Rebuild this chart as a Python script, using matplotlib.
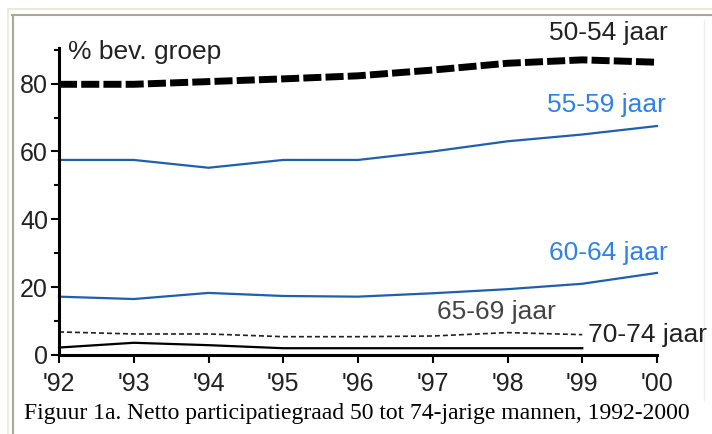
import matplotlib
matplotlib.use("Agg")
import matplotlib.pyplot as plt
from matplotlib.lines import Line2D
from matplotlib.ticker import MultipleLocator

years = [1992, 1993, 1994, 1995, 1996, 1997, 1998, 1999, 2000]
year_labels = ["'92", "'93", "'94", "'95", "'96", "'97", "'98", "'99", "'00"]
s50_54 = [79.8, 79.8, 80.6, 81.4, 82.3, 84.0, 86.0, 87.0, 86.3]
s55_59 = [57.5, 57.5, 55.2, 57.5, 57.5, 60.0, 63.0, 65.0, 67.5]
s60_64 = [17.2, 16.5, 18.3, 17.4, 17.2, 18.2, 19.4, 21.0, 24.2]
years_old = [1992, 1993, 1994, 1995, 1996, 1997, 1998, 1999]
s65_69 = [6.8, 6.2, 6.2, 5.4, 5.4, 5.6, 6.6, 6.0]
s70_74 = [2.2, 3.6, 2.9, 2.0, 2.0, 2.0, 2.0, 2.0]
y_ticks = [0, 20, 40, 60, 80]

W, H = 712, 434
fig = plt.figure(figsize=(W / 100, H / 100), dpi=100)
fig.patch.set_facecolor("white")

# frame lines
fig.add_artist(Line2D([8 / W, 1], [1 - 9 / H, 1 - 9 / H], color="#ece9d8", lw=1.5))
fig.add_artist(Line2D([12 / W, 1], [1 - 14.5 / H, 1 - 14.5 / H], color="#aca899", lw=1.5))
fig.add_artist(Line2D([12.5 / W, 12.5 / W], [0, 1 - 14.5 / H], color="#aca899", lw=1.5))
fig.add_artist(Line2D([8 / W, 8 / W], [0, 1 - 9 / H], color="#ece9d8", lw=1.2))
fig.add_artist(Line2D([704 / W, 704 / W], [1 - 400 / H, 1 - 20 / H], color="#eeeeee", lw=1.0))

left, right = 59 / W, 657 / W
bottom, top = 1 - 355 / H, 1 - 48 / H
ax = fig.add_axes([left, bottom, right - left, top - bottom])
ax.set_xlim(1992, 2000)
ax.set_ylim(0, 90.5)
ax.patch.set_alpha(0)

blue_line = "#1f5fae"
blue_text = "#2f80e8"

ax.plot(years, s50_54, color="black", lw=5, dashes=(2.6, 0.6), solid_capstyle="butt", clip_on=False)
ax.plot(years, s55_59, color=blue_line, lw=1.6, clip_on=False)
ax.plot(years, s60_64, color=blue_line, lw=1.6, clip_on=False)
ax.plot(years_old, s65_69, color="#222222", lw=1.2, dashes=(3, 1.8), clip_on=False)
ax.plot(years_old, s70_74, color="black", lw=1.6, clip_on=False)

for sp in ["top", "right"]:
    ax.spines[sp].set_visible(False)
for sp in ["left", "bottom"]:
    ax.spines[sp].set_linewidth(2.2)
    ax.spines[sp].set_color("black")

ax.set_xticks(years)
ax.set_xticklabels(year_labels)
ax.set_yticks(y_ticks)
ax.set_yticklabels([str(v) for v in y_ticks])
ax.yaxis.set_minor_locator(MultipleLocator(10))
ax.tick_params(axis="both", which="major", direction="out", length=6, width=1.5,
               labelsize=18, labelcolor="#222222", pad=2)
ax.tick_params(axis="y", which="minor", direction="out", length=3.5, width=1.5)
ax.tick_params(axis="x", pad=6)
for lab in ax.get_xticklabels() + ax.get_yticklabels():
    lab.set_family("Liberation Sans")

font = "Liberation Sans"
fs = 19
fig.text(68 / W, 1 - 52 / H, "% bev. groep", fontsize=fs, family=font, color="#222222", va="center", ha="left")
fig.text(668 / W, 1 - 33 / H, "50-54 jaar", fontsize=fs, family=font, color="#222222", va="center", ha="right")
fig.text(666 / W, 1 - 105 / H, "55-59 jaar", fontsize=fs, family=font, color=blue_text, va="center", ha="right")
fig.text(668 / W, 1 - 253 / H, "60-64 jaar", fontsize=fs, family=font, color=blue_text, va="center", ha="right")
fig.text(437 / W, 1 - 312 / H, "65-69 jaar", fontsize=fs, family=font, color="#444444", va="center", ha="left")
fig.text(588 / W, 1 - 335 / H, "70-74 jaar", fontsize=fs, family=font, color="#222222", va="center", ha="left")

fig.text(24 / W, 1 - 414 / H, "Figuur 1a. Netto participatiegraad 50 tot 74-jarige mannen, 1992-2000",
         fontsize=17, family="Liberation Serif", color="black", va="center", ha="left")

fig.savefig("out.png", dpi=100)
